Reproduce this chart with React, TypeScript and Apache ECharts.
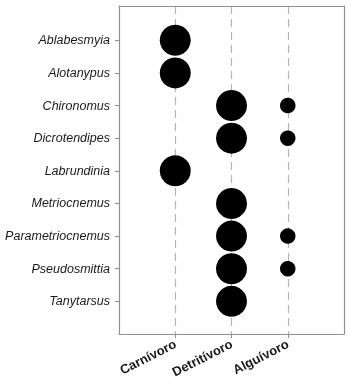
import React, { useEffect, useRef } from "react";
import * as echarts from "echarts";

const taxa = [
  "Ablabesmyia",
  "Alotanypus",
  "Chironomus",
  "Dicrotendipes",
  "Labrundinia",
  "Metriocnemus",
  "Parametriocnemus",
  "Pseudosmittia",
  "Tanytarsus",
];
const guilds = ["Carnívoro", "Detritívoro", "Alguívoro"];
// relative weight of each guild per taxon (0 = absent)
const carnivoro = [1, 1, 0, 0, 1, 0, 0, 0, 0];
const detritivoro = [0, 0, 1, 1, 0, 1, 1, 1, 1];
const alguivoro = [0, 0, 0.25, 0.25, 0, 0, 0.25, 0.25, 0];

const FRAME = "#8f8f8f";
const FONT = "Liberation Sans, Arial, sans-serif";

export default function App() {
  const ref = useRef<HTMLDivElement>(null);
  useEffect(() => {
    if (!ref.current) return;
    const chart = echarts.init(ref.current, undefined, { renderer: "svg" });
    const cols = [carnivoro, detritivoro, alguivoro];
    const data: any[] = [];
    cols.forEach((col, gi) => {
      col.forEach((v, ti) => {
        if (v > 0) data.push([gi + 1, ti + 1, v]);
      });
    });
    const idx = [1, 2, 3];
    const tidx = taxa.map((_, i) => i + 1);
    const frameLine = { show: true, onZero: false, lineStyle: { color: FRAME, width: 1.2 } };
    chart.setOption({
      animation: false,
      grid: { left: 119, right: 8, top: 6, bottom: 56 },
      xAxis: [
        {
          type: "value",
          position: "bottom",
          min: 0,
          max: 4,
          interval: 1,
          axisLine: frameLine,
          axisTick: {
            show: true,
            length: 4,
            customValues: idx,
            lineStyle: { color: FRAME },
          },
          axisLabel: {
            customValues: idx,
            rotate: 27,
            margin: 9,
            fontFamily: FONT,
            fontWeight: "bold",
            fontSize: 13,
            color: "#1a1a1a",
            formatter: (v: number) => guilds[v - 1] ?? "",
          },
          splitLine: {
            show: true,
            lineStyle: { color: "#b5b5b5", type: [8, 5], width: 1.2 },
          },
        },
        {
          type: "value",
          position: "top",
          min: 0,
          max: 4,
          axisLine: frameLine,
          axisTick: { show: false },
          axisLabel: { show: false },
          splitLine: { show: false },
        },
      ],
      yAxis: [
        {
          type: "value",
          position: "left",
          min: -0.05,
          max: 10,
          inverse: true,
          axisLine: frameLine,
          splitLine: { show: false },
          axisTick: {
            show: true,
            length: 4,
            customValues: tidx,
            lineStyle: { color: FRAME },
          },
          axisLabel: {
            customValues: tidx,
            margin: 9,
            fontFamily: FONT,
            fontStyle: "italic",
            fontSize: 12.5,
            color: "#1a1a1a",
            formatter: (v: number) => taxa[v - 1] ?? "",
          },
        },
        {
          type: "value",
          position: "right",
          min: -0.05,
          max: 10,
          axisLine: frameLine,
          axisTick: { show: false },
          axisLabel: { show: false },
          splitLine: { show: false },
        },
      ],
      series: [
        {
          type: "scatter",
          data,
          symbolSize: (d: number[]) => 31 * Math.sqrt(d[2]),
          itemStyle: { color: "#000", opacity: 1 },
          z: 5,
        },
      ],
    });
    return () => chart.dispose();
  }, []);
  return (
    <div
      ref={ref}
      style={{ position: "fixed", left: 0, top: 0, width: 352, height: 390 }}
    />
  );
}
